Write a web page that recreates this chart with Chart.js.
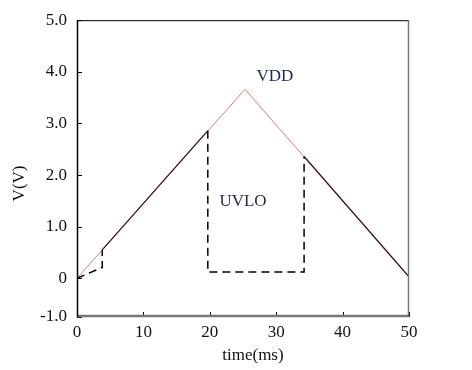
<!DOCTYPE html>
<html>
<head>
<meta charset="utf-8">
<script src="https://cdn.jsdelivr.net/npm/chart.js@4/dist/chart.umd.min.js"></script>
<style>
  body { margin: 0; background: #fff; }
</style>
</head>
<body>
<canvas id="myChart" width="472" height="370"></canvas>
<script>
// VDD ramp (red)
const vddTime = [0, 25.3, 50];
const vddVolt = [0, 3.66, 0.03];
// part of VDD where the output is on (dark overlay), null = gap
const onTime = [3.8, 19.7, null, 34.2, 50];
const onVolt = [0.55, 2.86, null, 2.36, 0.03];
// UVLO dashed trace
const uvloTime = [0, 3.8, 3.8, null, 19.7, 19.7, 34.2, 34.2];
const uvloVolt = [0, 0.21, 0.55, null, 2.86, 0.12, 0.12, 2.36];

const xTicks = [0, 10, 20, 30, 40, 50];
const yTicks = [-0.75, 0, 1, 2, 3, 4, 5];
const yTickLabels = ["-1.0", "0", "1.0", "2.0", "3.0", "4.0", "5.0"];

const noteText = ["VDD", "UVLO"];
const noteTime = [29.8, 25];
const noteVolt = [3.91, 1.48];

const FONT = "'Liberation Serif', 'DejaVu Serif', serif";

function pts(ts, vs) {
  return ts.map((t, i) => ({ x: t, y: vs[i] }));
}

const frame = {
  id: "frame",
  afterDatasetsDraw(chart) {
    const { ctx, chartArea: a, scales: { x, y } } = chart;
    ctx.save();
    ctx.lineCap = "butt";

    // ticks, pointing inward
    ctx.strokeStyle = "#000";
    ctx.lineWidth = 1;
    ctx.beginPath();
    xTicks.slice(1).forEach(v => {
      const px = Math.round(x.getPixelForValue(v)) + 0.5;
      ctx.moveTo(px, a.bottom);
      ctx.lineTo(px, a.bottom - 5);
    });
    yTicks.forEach(v => {
      const py = Math.round(y.getPixelForValue(v)) + 0.5;
      ctx.moveTo(a.left, py);
      ctx.lineTo(a.left + 5, py);
    });
    ctx.stroke();

    // top border
    ctx.beginPath();
    ctx.moveTo(a.left, a.top + 0.5);
    ctx.lineTo(a.right, a.top + 0.5);
    ctx.stroke();

    // right border
    ctx.strokeStyle = "#777";
    ctx.lineWidth = 1.5;
    ctx.beginPath();
    ctx.moveTo(a.right - 0.5, a.top);
    ctx.lineTo(a.right - 0.5, a.bottom);
    ctx.stroke();

    // bottom axis
    ctx.lineWidth = 2.5;
    ctx.beginPath();
    ctx.moveTo(a.left, a.bottom - 1);
    ctx.lineTo(a.right, a.bottom - 1);
    ctx.stroke();

    // left axis
    ctx.strokeStyle = "#000";
    ctx.lineWidth = 1.5;
    ctx.beginPath();
    ctx.moveTo(a.left + 0.5, a.top);
    ctx.lineTo(a.left + 0.5, a.bottom);
    ctx.stroke();

    // notes
    ctx.fillStyle = "#1b2a4a";
    ctx.font = "17px " + FONT;
    ctx.textAlign = "center";
    ctx.textBaseline = "middle";
    noteText.forEach((s, i) => {
      ctx.fillText(s, x.getPixelForValue(noteTime[i]), y.getPixelForValue(noteVolt[i]));
    });

    // axis titles
    ctx.fillStyle = "#111";
    ctx.font = "17px " + FONT;
    ctx.fillText("time(ms)", a.left + (a.right - a.left) * 0.53, a.bottom + 39);
    ctx.translate(20, a.top + (a.bottom - a.top) * 0.55);
    ctx.rotate(-Math.PI / 2);
    ctx.fillText("V(V)", 0, 0);
    ctx.restore();
  }
};

new Chart(document.getElementById("myChart"), {
  type: "scatter",
  data: {
    datasets: [
      {
        data: pts(uvloTime, uvloVolt),
        showLine: true,
        spanGaps: false,
        borderColor: "#000",
        borderWidth: 1.5,
        borderDash: [8, 5],
        pointRadius: 0
      },
      {
        data: pts(onTime, onVolt),
        showLine: true,
        spanGaps: false,
        borderColor: "#3a1c1c",
        borderWidth: 1.3,
        pointRadius: 0
      },
      {
        data: pts(vddTime, vddVolt),
        showLine: true,
        borderColor: "#d9806f",
        borderWidth: 1,
        pointRadius: 0
      }
    ]
  },
  options: {
    responsive: false,
    animation: false,
    layout: { padding: { left: 0, right: 63, top: 20, bottom: 0 } },
    plugins: { legend: { display: false }, tooltip: { enabled: false } },
    scales: {
      x: {
        type: "linear",
        min: 0,
        max: 50,
        afterBuildTicks: s => { s.ticks = xTicks.map(v => ({ value: v })); },
        afterFit: s => { s.height = 53; },
        grid: { display: false, drawTicks: false },
        border: { display: false },
        ticks: { padding: 5, color: "#111", font: { family: FONT, size: 17 } }
      },
      y: {
        type: "linear",
        min: -0.75,
        max: 5,
        afterBuildTicks: s => { s.ticks = yTicks.map(v => ({ value: v })); },
        afterFit: s => { s.width = 77; },
        grid: { display: false, drawTicks: false },
        border: { display: false },
        ticks: {
          padding: 10,
          color: "#111",
          font: { family: FONT, size: 17 },
          callback: v => yTickLabels[yTicks.indexOf(v)]
        }
      }
    }
  },
  plugins: [frame]
});
</script>
</body>
</html>
